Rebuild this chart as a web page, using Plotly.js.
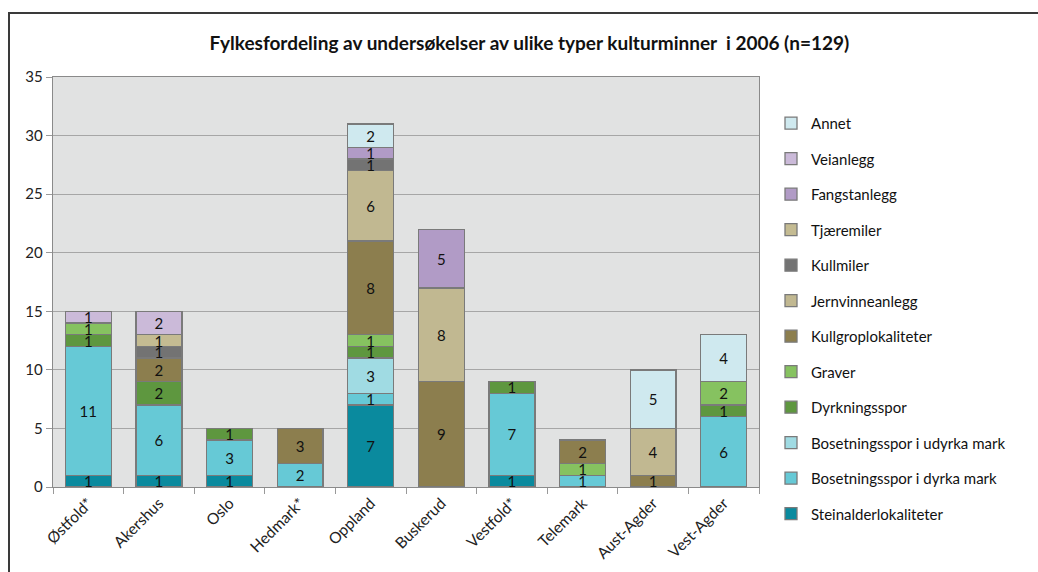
<!DOCTYPE html>
<html>
<head>
<meta charset="utf-8">
<script src="https://cdn.plot.ly/plotly-3.0.1.min.js"></script>
<style>
  html, body { margin: 0; padding: 0; background: #fff; }
  #chart { width: 1038px; height: 572px; position: absolute; left: 0; top: 0; }
  #frame { position: absolute; left: 8px; top: 12px; width: 1040px; height: 580px;
           border-left: 2px solid #3a3a3a; border-top: 2px solid #3a3a3a; pointer-events: none; }
</style>
</head>
<body>
<div id="chart"></div>
<div id="frame"></div>
<script>
const categories = ["Østfold*", "Akershus", "Oslo", "Hedmark*", "Oppland", "Buskerud", "Vestfold*", "Telemark", "Aust-Agder", "Vest-Agder"];

const steinalderlokaliteter   = [1, 1, 1, 0, 7, 0, 1, 0, 0, 0];
const bosetningssporDyrka     = [11, 6, 3, 2, 1, 0, 7, 1, 0, 6];
const bosetningssporUdyrka    = [0, 0, 0, 0, 3, 0, 0, 0, 0, 0];
const dyrkningsspor           = [1, 2, 1, 0, 1, 0, 1, 0, 0, 1];
const graver                  = [1, 0, 0, 0, 1, 0, 0, 1, 0, 2];
const kullgroplokaliteter     = [0, 2, 0, 3, 8, 9, 0, 2, 1, 0];
const jernvinneanlegg         = [0, 0, 0, 0, 6, 8, 0, 0, 4, 0];
const kullmiler               = [0, 1, 0, 0, 1, 0, 0, 0, 0, 0];
const tjaeremiler             = [0, 1, 0, 0, 0, 0, 0, 0, 0, 0];
const fangstanlegg            = [0, 0, 0, 0, 1, 5, 0, 0, 0, 0];
const veianlegg               = [1, 2, 0, 0, 0, 0, 0, 0, 0, 0];
const annet                   = [0, 0, 0, 0, 2, 0, 0, 0, 5, 4];

const seriesNames = ["Steinalderlokaliteter", "Bosetningsspor i dyrka mark", "Bosetningsspor i udyrka mark",
  "Dyrkningsspor", "Graver", "Kullgroplokaliteter", "Jernvinneanlegg", "Kullmiler", "Tjæremiler",
  "Fangstanlegg", "Veianlegg", "Annet"];
const seriesValues = [steinalderlokaliteter, bosetningssporDyrka, bosetningssporUdyrka, dyrkningsspor, graver,
  kullgroplokaliteter, jernvinneanlegg, kullmiler, tjaeremiler, fangstanlegg, veianlegg, annet];
const seriesColors = ["#0a8a9e", "#66c9d6", "#a0dbe3", "#5e973f", "#86c260", "#8c7e4e",
  "#c1b891", "#737373", "#c4bb92", "#b19bc6", "#cbbad9", "#cfe9ef"];

const traces = seriesNames.map((name, i) => ({
  type: "bar",
  name: name,
  x: categories,
  y: seriesValues[i].map(v => v === 0 ? null : v),
  text: seriesValues[i].map(v => v === 0 ? "" : String(v)),
  textposition: "inside",
  insidetextanchor: "middle",
  constraintext: "none",
  textangle: 0,
  textfont: { family: "Lato, 'Open Sans', sans-serif", size: 15, color: "#111" },
  marker: { color: seriesColors[i], line: { color: "#7a7a7a", width: 1.3 } },
  legendgroup: "g" + i,
  legendrank: 100 - i,
  hoverinfo: "name+y"
}));

const layout = {
  width: 1038, height: 572,
  paper_bgcolor: "rgba(0,0,0,0)",
  plot_bgcolor: "#e1e2e2",
  margin: { l: 53, r: 279, t: 77, b: 85 },
  barmode: "stack",
  bargap: 0.35,
  title: {
    text: "<b>Fylkesfordeling av undersøkelser av ulike typer kulturminner  i 2006 (n=129)</b>",
    font: { family: "Lato, 'Open Sans', sans-serif", size: 19, color: "#111" },
    x: 0.51, xanchor: "center", y: 0.925, yanchor: "middle"
  },
  font: { family: "Lato, 'Open Sans', sans-serif", color: "#222" },
  xaxis: {
    type: "category",
    tickangle: -45,
    tickson: "boundaries",
    ticks: "outside", ticklen: 6, tickcolor: "#999",
    showline: true, linecolor: "#8a8a8a", linewidth: 1.3, mirror: true,
    tickfont: { size: 15.5, color: "#222" },
    showgrid: false
  },
  yaxis: {
    range: [0, 35], dtick: 5,
    ticks: "outside", ticklen: 6, tickcolor: "#999",
    showline: true, linecolor: "#8a8a8a", linewidth: 1.3, mirror: true,
    gridcolor: "#a6a6a6", gridwidth: 1.2,
    zeroline: false,
    tickfont: { size: 15, color: "#222" }
  },
  legend: {
    x: 1.017, xanchor: "left",
    y: 0.927, yanchor: "top",
    traceorder: "grouped",
    tracegroupgap: 13,
    maxheight: 560,
    font: { size: 15, color: "#111" },
    bgcolor: "rgba(0,0,0,0)"
  },
  showlegend: true
};

Plotly.newPlot("chart", traces, layout, { displayModeBar: false, staticPlot: true });
</script>
</body>
</html>
